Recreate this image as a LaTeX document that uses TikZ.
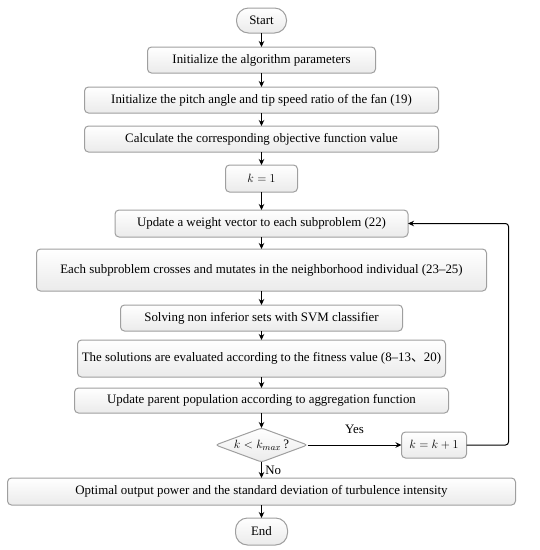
\documentclass[tikz,border=0pt]{standalone}
\usepackage{fontspec}
\setmainfont{Liberation Serif}
\newfontfamily\cjk{Noto Sans CJK SC}
\usetikzlibrary{shapes.geometric, arrows.meta, positioning}

\begin{document}
\begin{tikzpicture}[
  x=1pt, y=1pt,
  box/.style={draw=gray!75, line width=1pt, outer sep=0pt, rounded corners=4pt, top color=white, bottom color=gray!16, align=center, font=\fontsize{12.9}{15}\selectfont, inner sep=2pt, minimum height=26pt},
  term/.style={box, rounded corners=12pt},
  cond/.style={draw=gray!75, line width=1pt, outer sep=0pt, diamond, aspect=2.7, rounded corners=3pt, top color=white, bottom color=gray!16, font=\fontsize{12.9}{15}\selectfont, inner sep=0pt, minimum width=92pt, minimum height=34pt},
  arr/.style={-{Stealth[length=6pt,width=5.5pt]}, line width=1pt}
]
\useasboundingbox (0,0) rectangle (540,-550);

% Start
\node[term, minimum width=50pt, minimum height=25pt] (start) at (261.5,-20.5) {Start};

% Initialisation
\node[box, minimum width=228pt, below=14pt of start] (init) {Initialize the algorithm parameters};
\node[box, minimum width=354pt, below=14pt of init] (pitch) {Initialize the pitch angle and tip speed ratio of the fan (19)};
\node[box, minimum width=354pt, below=13pt of pitch] (calc) {Calculate the corresponding objective function value};
\node[box, minimum width=72pt, minimum height=27pt, below=13pt of calc] (kone) {$k=1$};

% Main loop
\node[box, minimum width=293pt, minimum height=27pt, below=18pt of kone] (weight) {Update a weight vector to each subproblem (22)};
\node[box, minimum width=450pt, minimum height=42pt, below=12pt of weight] (cross) {Each subproblem crosses and mutates in the neighborhood individual (23--25)};
\node[box, minimum width=282pt, below=14pt of cross] (svm) {Solving non inferior sets with SVM classifier};
\node[box, minimum width=368pt, minimum height=37pt, below=9pt of svm] (fit) {The solutions are evaluated according to the fitness value (8--13{\cjk 、}20)};
\node[box, minimum width=374pt, minimum height=25pt, below=11pt of fit] (parent) {Update parent population according to aggregation function};

% Test
\node[cond, below=15pt of parent] (test) {$k<k_{max}$\,?};
\node[box, minimum width=65pt, right=94pt of test] (knext) {$k=k+1$};

% Output
\node[box, minimum width=508pt, minimum height=27pt, below=16pt of test] (out) {Optimal output power and the standard deviation of turbulence intensity};
\node[term, minimum width=52pt, minimum height=27pt, below=13pt of out] (stop) {End};

\draw[arr] (start) -- (init);
\draw[arr] (init) -- (pitch);
\draw[arr] (pitch) -- (calc);
\draw[arr] (calc) -- (kone);
\draw[arr] (kone) -- (weight);
\draw[arr] (weight) -- (cross);
\draw[arr] (cross) -- (svm);
\draw[arr] (svm) -- (fit);
\draw[arr] (fit) -- (parent);
\draw[arr] (parent) -- (test);
\draw[arr] (test) -- (knext) node[midway, above=8pt, font=\fontsize{12.9}{15}\selectfont]{Yes};
\draw[arr] (test) -- (out) node[midway, right, font=\fontsize{12.9}{15}\selectfont]{No};
\draw[arr] (out) -- (stop);
\draw[arr, rounded corners=3pt] (knext.east) -- ++(42pt,0) |- (weight.east);
\end{tikzpicture}
\end{document}
